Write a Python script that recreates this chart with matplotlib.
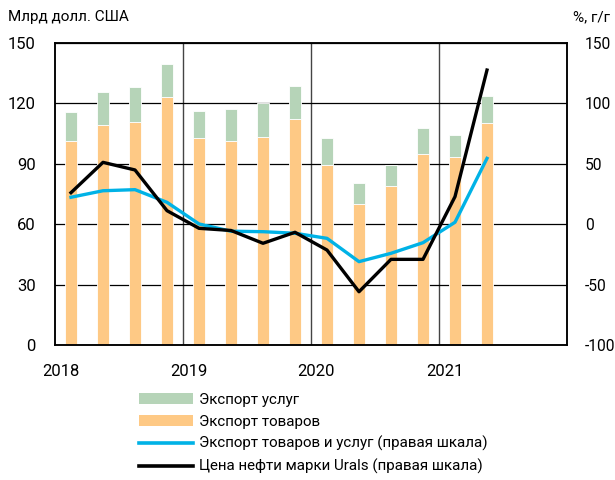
import matplotlib
matplotlib.use("Agg")
import matplotlib.pyplot as plt
from matplotlib.patches import Patch
from matplotlib.lines import Line2D
import numpy as np

plt.rcParams['font.family'] = ['Roboto', 'DejaVu Sans']
plt.rcParams['axes.unicode_minus'] = False

# quarterly data, 2018Q1 .. 2021Q2
quarters = ['2018Q1', '2018Q2', '2018Q3', '2018Q4',
            '2019Q1', '2019Q2', '2019Q3', '2019Q4',
            '2020Q1', '2020Q2', '2020Q3', '2020Q4',
            '2021Q1', '2021Q2']
goods = [101.5, 109.1, 110.6, 123.0, 102.7, 101.5, 103.2, 112.4,
         89.4, 70.0, 79.1, 94.9, 93.2, 110.3]
total = [115.6, 125.7, 128.0, 139.7, 116.4, 117.2, 120.1, 128.7,
         103.0, 80.6, 89.6, 107.6, 104.3, 123.7]
services = [t - g for t, g in zip(total, goods)]
exports_yoy = [22.3, 27.7, 28.6, 18.1, 0.2, -5.8, -6.2, -7.5,
               -11.7, -31.0, -24.1, -15.3, 1.6, 54.5]
urals_yoy = [26.1, 51.2, 44.9, 11.2, -3.4, -5.2, -15.8, -6.7,
             -21.4, -55.9, -29.1, -29.1, 22.8, 127.6]
years = ['2018', '2019', '2020', '2021']

c_serv = '#b6d4b8'
c_goods = '#fec985'
c_blue = '#00b2e6'
c_black = '#000000'

x = np.arange(len(quarters))

fig = plt.figure(figsize=(6.15, 4.8), dpi=100)
ax = fig.add_axes([55 / 615, 1 - 345 / 480, 512 / 615, 302 / 480])
ax2 = ax.twinx()

ax.bar(x, goods, width=0.36, color=c_goods, edgecolor='white', linewidth=0.6, zorder=2)
ax.bar(x, services, bottom=goods, width=0.36, color=c_serv, edgecolor='white', linewidth=0.6, zorder=2)

ax2.plot(x, exports_yoy, color=c_blue, lw=2.4, zorder=3)
ax2.plot(x, urals_yoy, color=c_black, lw=2.4, zorder=4)

ax.set_xlim(-0.5, 15.5)
ax.set_ylim(0, 150)
ax2.set_ylim(-100, 150)
ax.set_yticks(np.arange(0, 151, 30))
ax2.set_yticks(np.arange(-100, 151, 50))

# year boundaries as minor ticks, labels slightly to the right
bounds = np.array([3.5, 7.5, 11.5])
ax.set_xticks(bounds, minor=True)
ax.set_xticks(np.array([-0.5, 3.5, 7.5, 11.5]) + 0.17)
ax.set_xticklabels(years)
ax.grid(axis='x', which='minor', color='#444444', lw=1.0, zorder=1)
ax.grid(axis='y', which='major', color='black', lw=0.9, zorder=1)
ax.grid(axis='x', which='major', visible=False)

ax.tick_params(axis='both', which='both', length=0, labelsize=12)
ax.tick_params(axis='y', pad=14)
ax.tick_params(axis='x', pad=14)
ax2.tick_params(axis='y', length=0, labelsize=11.2, pad=13)

for a in (ax, ax2):
    for s in a.spines.values():
        s.set_color('black')
        s.set_linewidth(1.1)

ax2.patch.set_visible(False)

fig.text(8 / 615, 1 - 17 / 480, 'Млрд долл. США', fontsize=11, va='center', ha='left')
fig.text(610 / 615, 1 - 17 / 480, '%, г/г', fontsize=11, va='center', ha='right')

handles = [
    Patch(facecolor=c_serv, edgecolor='none'),
    Patch(facecolor=c_goods, edgecolor='none'),
    Line2D([0], [0], color=c_blue, lw=2.6),
    Line2D([0], [0], color=c_black, lw=2.6),
]
labels = ['Экспорт услуг', 'Экспорт товаров',
          'Экспорт товаров и услуг (правая шкала)',
          'Цена нефти марки Urals (правая шкала)']
fig.legend(handles, labels, loc='upper left', bbox_to_anchor=(139 / 615, 1 - 393 / 480),
           frameon=False, fontsize=10.9, handlelength=3.55, handletextpad=0.42,
           labelspacing=0.5, borderpad=0, borderaxespad=0)

fig.savefig('out.png', dpi=100)
